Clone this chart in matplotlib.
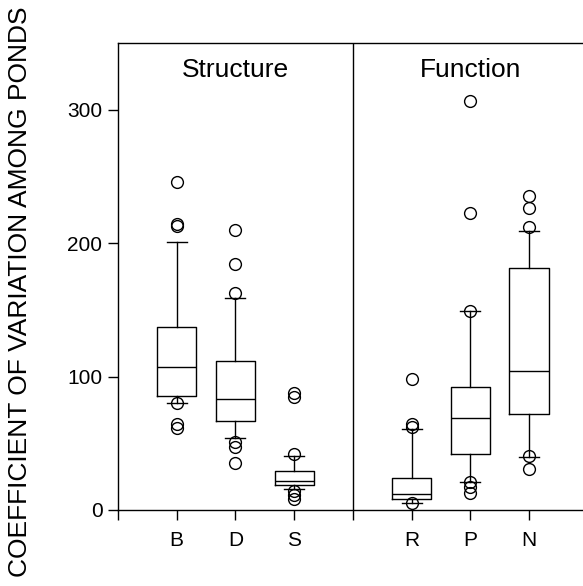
import matplotlib.pyplot as plt

plt.rcParams['font.family'] = ['Liberation Sans', 'DejaVu Sans']

# box (q1, median, q3), whisker ends and outlying points
groups = ["B", "D", "S", "R", "P", "N"]
positions = [1, 2, 3, 5, 6, 7]
q1 = [85.5, 66.7, 19.0, 8.0, 42.0, 72.0]
med = [107.0, 83.5, 22.0, 11.7, 68.7, 104.5]
q3 = [137.0, 112.0, 29.0, 24.0, 92.0, 181.7]
whislo = [80.0, 53.7, 15.7, 5.5, 21.3, 40.0]
whishi = [201.0, 159.0, 40.7, 61.0, 149.0, 209.0]
fliers = [
    [245.5, 214.5, 213.0, 80.0, 64.5, 61.5],
    [210.0, 184.0, 162.5, 51.0, 47.5, 35.0],
    [87.5, 84.5, 42.0, 14.0, 11.0, 8.0],
    [98.0, 64.3, 62.0, 5.5],
    [306.7, 222.5, 149.0, 21.0, 17.5, 12.5],
    [235.0, 226.0, 212.0, 40.7, 31.0],
]
panel_names = ["Structure", "Function"]
panel_centres = [2, 6]
yticks = [0, 100, 200, 300]

stats = []
for i, g in enumerate(groups):
    stats.append({"label": g, "med": med[i], "q1": q1[i], "q3": q3[i],
                  "whislo": whislo[i], "whishi": whishi[i], "fliers": fliers[i]})

fig = plt.figure(figsize=(5.83, 5.86), dpi=100)
ax = fig.add_axes([0.2024, 0.1297, 0.806, 0.797])

ax.bxp(stats, positions=positions, widths=0.67, capwidths=0.34,
       boxprops=dict(color="black", lw=1.0),
       medianprops=dict(color="black", lw=1.0),
       whiskerprops=dict(color="black", lw=1.0),
       capprops=dict(color="black", lw=1.0),
       flierprops=dict(marker="o", markersize=8.5, markerfacecolor="none",
                       markeredgecolor="black", markeredgewidth=1.0))

ax.axvline(4, color="black", lw=1.0)
for name, xc in zip(panel_names, panel_centres):
    ax.text(xc, 330, name, ha="center", va="center", fontsize=19)

ax.set_xlim(0, 8)
ax.set_ylim(0, 350)
ax.set_yticks(yticks)
ax.set_xticks([0] + positions[:3] + [4] + positions[3:] + [8])
ax.set_xticklabels([""] + groups[:3] + [""] + groups[3:] + [""])
ax.tick_params(axis="both", direction="out", length=7.2, width=1.0,
               labelsize=15, color="black")
ax.tick_params(axis="x", pad=8)
ax.tick_params(axis="y", pad=4)
for s in ax.spines.values():
    s.set_linewidth(1.0)

ax.set_ylabel("COEFFICIENT OF VARIATION AMONG PONDS", fontsize=19)
ax.yaxis.set_label_coords(-0.183, 0.467)

fig.savefig("out.png", dpi=100)
